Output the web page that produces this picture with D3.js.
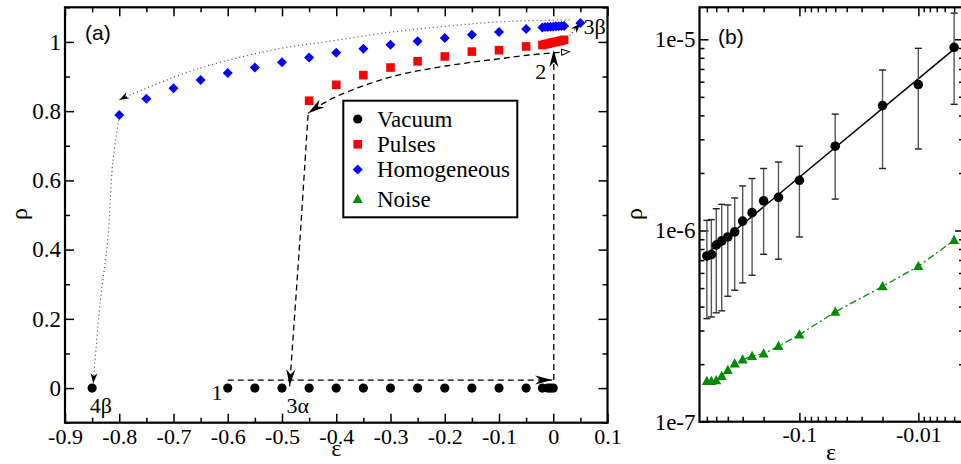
<!DOCTYPE html>
<html>
<head>
<meta charset="utf-8">
<script src="https://cdn.jsdelivr.net/npm/d3@7"></script>
<style>
  body { margin: 0; background: #fff; }
  svg text { font-family: "Liberation Serif", "Times New Roman", serif; }
</style>
</head>
<body>
<svg id="chart" width="961" height="464"></svg>
<script>
//Panel (a) data: rho vs epsilon
const vacEps = [-0.85, -0.6, -0.55, -0.5, -0.45, -0.4, -0.35, -0.3, -0.25, -0.2, -0.15, -0.1, -0.05, -0.02, -0.01, -0.005, 0];
const vacRho = [0, 0, 0, 0, 0, 0, 0, 0, 0, 0, 0, 0, 0, 0, 0, 0, 0];

const pulEps = [-0.45, -0.4, -0.35, -0.3, -0.25, -0.2, -0.15, -0.1, -0.05, -0.02, -0.015, -0.01, -0.005, 0, 0.005, 0.01, 0.015, 0.02];
const pulRho = [0.83, 0.876, 0.904, 0.926, 0.944, 0.958, 0.972, 0.976, 0.987, 0.991, 0.993, 0.995, 0.997, 0.999, 1.0, 1.002, 1.004, 1.006];

const homEps = [-0.8, -0.75, -0.7, -0.65, -0.6, -0.55, -0.5, -0.45, -0.4, -0.35, -0.3, -0.25, -0.2, -0.15, -0.1, -0.05, -0.02, -0.015, -0.01, -0.005, 0, 0.005, 0.01, 0.015, 0.02, 0.05];
const homRho = [0.789, 0.836, 0.866, 0.89, 0.91, 0.926, 0.941, 0.955, 0.969, 0.98, 0.992, 1.002, 1.011, 1.021, 1.029, 1.037, 1.042, 1.043, 1.043, 1.044, 1.044, 1.045, 1.045, 1.046, 1.046, 1.055];

//hysteresis paths, [eps, rho]
const path1to2 = [[-0.6, 0.023], [-0.002, 0.023]];
const pathUp2 = [[0.001, 0.023], [0.001, 0.977]];
const pathPulses = [[0.03, 0.972], [-0.039, 0.963], [-0.1, 0.951], [-0.161, 0.939], [-0.223, 0.924], [-0.284, 0.905], [-0.345, 0.876], [-0.412, 0.833], [-0.452, 0.794]];
const pathTo3a = [[-0.452, 0.789], [-0.467, 0.428], [-0.486, 0.005]];
const pathTo3b = [[0.026, 1.011], [0.05, 1.054]];
const pathHomog = [[0.03, 1.064], [-0.1, 1.058], [-0.2, 1.045], [-0.3, 1.028], [-0.43, 0.998], [-0.5, 0.982], [-0.652, 0.924], [-0.787, 0.842], [-0.8, 0.832]];
const pathTo4b = [[-0.801, 0.775], [-0.812, 0.65], [-0.821, 0.43], [-0.835, 0.25], [-0.848, 0.014]];

const pointLabels = ['1', '2', '3\u03b1', '3\u03b2', '4\u03b2'];
const pointLabelPos = [[-0.62, -0.011], [-0.023, 0.914], [-0.471, -0.049], [0.076, 1.045], [-0.834, -0.049]];

const legendNames = ['Vacuum', 'Pulses', 'Homogeneous', 'Noise'];

//Panel (b) data: log-log, vacuum with error bars and noise
const bEps = [-0.6, -0.55, -0.5, -0.45, -0.4, -0.35, -0.3, -0.25, -0.2, -0.15, -0.1, -0.05, -0.02, -0.01, -0.005];
const bVac = [7.36e-7, 7.48e-7, 8.38e-7, 8.82e-7, 9.25e-7, 9.84e-7, 1.12e-6, 1.24e-6, 1.43e-6, 1.49e-6, 1.83e-6, 2.76e-6, 4.5e-6, 5.8e-6, 9.08e-6];
const bVacHi = [1.13e-6, 1.14e-6, 1.30e-6, 1.37e-6, 1.36e-6, 1.48e-6, 1.71e-6, 1.87e-6, 2.11e-6, 2.28e-6, 2.76e-6, 4.06e-6, 6.91e-6, 8.97e-6, 1.37e-5];
const bVacLo = [3.46e-7, 3.53e-7, 3.71e-7, 3.80e-7, 4.53e-7, 4.87e-7, 5.32e-7, 5.83e-7, 7.51e-7, 7.08e-7, 9.25e-7, 1.46e-6, 2.11e-6, 2.67e-6, 4.57e-6];
const bNoise = [1.63e-7, 1.63e-7, 1.64e-7, 1.73e-7, 1.86e-7, 2.01e-7, 2.11e-7, 2.2e-7, 2.27e-7, 2.48e-7, 2.85e-7, 3.75e-7, 5.1e-7, 6.5e-7, 8.89e-7];

const bXLabels = ['-0.1', '-0.01'];
const bYLabels = ['1e-7', '1e-6', '1e-5'];

const RED = '#ff0000', BLUE = '#0000ff', GREEN = '#008b00';
const SERIF = '"Liberation Serif", "Times New Roman", serif';

const svg = d3.select('#chart');

//symbol shapes
const shapes = {
  circle: r => `M${-r},0a${r},${r} 0 1,0 ${2*r},0a${r},${r} 0 1,0 ${-2*r},0`,
  square: s => `M${-s},${-s}H${s}V${s}H${-s}Z`,
  diamond: s => `M0,${-s}L${s},0L0,${s}L${-s},0Z`,
  triangle: s => `M0,${-s*1.1}L${s},${s*0.75}L${-s},${s*0.75}Z`
};

//arrow heads
const defs = svg.append('defs');
function arrowDef(id, d, fill, stroke) {
  defs.append('marker').attr('id', id)
    .attr('markerUnits', 'userSpaceOnUse')
    .attr('viewBox', '-20 -8 22 16')
    .attr('markerWidth', 22).attr('markerHeight', 16)
    .attr('refX', 0).attr('refY', 0)
    .attr('orient', 'auto')
    .append('path').attr('d', d)
    .attr('fill', fill).attr('stroke', stroke || 'none').attr('stroke-width', 1);
}
arrowDef('bigHead', 'M0,0L-17,-4.5L-12,0L-17,4.5Z', '#000');
arrowDef('smallHead', 'M0,0L-10,-3.5L-7,0L-10,3.5Z', '#000');
defs.append('marker').attr('id', 'openStart')
  .attr('markerUnits', 'userSpaceOnUse')
  .attr('viewBox', '-2 -8 22 16')
  .attr('markerWidth', 22).attr('markerHeight', 16)
  .attr('refX', 0).attr('refY', 0)
  .attr('orient', 'auto')
  .append('path').attr('d', 'M0,0L8,-3L8,3Z')
  .attr('fill', '#fff').attr('stroke', '#000').attr('stroke-width', 1);

function styleAxis(g, size) {
  g.attr('font-family', SERIF).attr('font-size', size);
  g.select('.domain').remove();
  g.selectAll('line').attr('stroke', '#000').attr('stroke-width', 1.5);
  g.selectAll('text').attr('fill', '#000')
    .attr('font-family', SERIF)
    .style('font-family', SERIF)
    .style('font-size', size + 'px');
}

// ================= PANEL (a) =================
const ax = d3.scaleLinear().domain([-0.9, 0.1]).range([65, 607.5]);
const ay = d3.scaleLinear().domain([-0.1, 1.1]).range([422.7, 7.3]);
const aTop = 7.3, aBottom = 422.7, aLeft = 65, aRight = 607.5;

const fmtA = d => Math.abs(d) < 1e-9 ? '0' : (Math.abs(d - 1) < 1e-9 ? '1' : d.toFixed(1));
const axMaj = d3.ticks(-0.9, 0.1, 10);
const axMin = d3.ticks(-0.9, 0.1, 20).filter(v => !axMaj.some(m => Math.abs(m - v) < 1e-9));
const ayMaj = d3.ticks(0, 1, 5);
const ayMin = d3.ticks(-0.1, 1.1, 12).filter(v => !ayMaj.some(m => Math.abs(m - v) < 1e-9));

const ga = svg.append('g');
//bottom + top
ga.append('g').attr('transform', `translate(0,${aBottom})`)
  .call(d3.axisBottom(ax).tickValues(axMaj).tickSize(-9).tickPadding(6).tickFormat(fmtA))
  .call(g => styleAxis(g, 22));
ga.append('g').attr('transform', `translate(0,${aBottom})`)
  .call(d3.axisBottom(ax).tickValues(axMin).tickSize(-5).tickFormat(''))
  .call(g => styleAxis(g, 22));
ga.append('g').attr('transform', `translate(0,${aTop})`)
  .call(d3.axisTop(ax).tickValues(axMaj).tickSize(-9).tickFormat(''))
  .call(g => styleAxis(g, 22));
ga.append('g').attr('transform', `translate(0,${aTop})`)
  .call(d3.axisTop(ax).tickValues(axMin).tickSize(-5).tickFormat(''))
  .call(g => styleAxis(g, 22));
//left + right
ga.append('g').attr('transform', `translate(${aLeft},0)`)
  .call(d3.axisLeft(ay).tickValues(ayMaj).tickSize(-9).tickPadding(4).tickFormat(fmtA))
  .call(g => styleAxis(g, 23));
ga.append('g').attr('transform', `translate(${aLeft},0)`)
  .call(d3.axisLeft(ay).tickValues(ayMin).tickSize(-5).tickFormat(''))
  .call(g => styleAxis(g, 23));
ga.append('g').attr('transform', `translate(${aRight},0)`)
  .call(d3.axisRight(ay).tickValues(ayMaj).tickSize(-9).tickFormat(''))
  .call(g => styleAxis(g, 23));
ga.append('g').attr('transform', `translate(${aRight},0)`)
  .call(d3.axisRight(ay).tickValues(ayMin).tickSize(-5).tickFormat(''))
  .call(g => styleAxis(g, 23));

ga.append('rect').attr('x', aLeft).attr('y', aTop)
  .attr('width', aRight - aLeft).attr('height', aBottom - aTop)
  .attr('fill', 'none').attr('stroke', '#000').attr('stroke-width', 2.2);

//axis titles
ga.append('text').attr('x', (aLeft + aRight) / 2).attr('y', 456)
  .attr('text-anchor', 'middle').style('font-size', '24px').text('\u03b5');
ga.append('text').attr('transform', 'translate(27,214) rotate(-90)')
  .attr('text-anchor', 'middle').style('font-size', '24px').text('\u03c1');
ga.append('text').attr('x', 85).attr('y', 40)
  .style('font-family', '"Liberation Sans", Arial, sans-serif').style('font-size', '21px').text('(a)');

//hysteresis arrows
const aLine = d3.line().x(d => ax(d[0])).y(d => ay(d[1])).curve(d3.curveCatmullRom);
function drawPath(pts, dash, color, width, endMarker, startMarker) {
  const p = ga.append('path').attr('d', aLine(pts))
    .attr('fill', 'none').attr('stroke', color).attr('stroke-width', width)
    .attr('stroke-dasharray', dash);
  if (endMarker) p.attr('marker-end', `url(#${endMarker})`);
  if (startMarker) p.attr('marker-start', `url(#${startMarker})`);
}
drawPath(path1to2, '6,4', '#000', 1.3, 'bigHead');
drawPath(pathUp2, '6,4', '#000', 1.3, 'bigHead');
drawPath(pathPulses, '6,4', '#000', 1.3, 'bigHead', 'openStart');
drawPath(pathTo3a, '6,4', '#000', 1.3, 'bigHead');
drawPath(pathTo3b, '1,2.5', '#333', 1.2, 'smallHead');
drawPath(pathHomog, '1,3', '#444', 1.2, 'smallHead');
drawPath(pathTo4b, '1,3', '#444', 1.2, 'smallHead');

//markers
ga.append('g').selectAll('path')
  .data(homEps.map((e, i) => [e, homRho[i]]))
  .enter().append('path')
  .attr('transform', d => `translate(${ax(d[0])},${ay(d[1])})`)
  .attr('d', shapes.diamond(5)).attr('fill', BLUE);
ga.append('g').selectAll('path')
  .data(pulEps.map((e, i) => [e, pulRho[i]]))
  .enter().append('path')
  .attr('transform', d => `translate(${ax(d[0])},${ay(d[1])})`)
  .attr('d', shapes.square(4.3)).attr('fill', RED);
ga.append('g').selectAll('path')
  .data(vacEps.map((e, i) => [e, vacRho[i]]))
  .enter().append('path')
  .attr('transform', d => `translate(${ax(d[0])},${ay(d[1])})`)
  .attr('d', shapes.circle(4.6)).attr('fill', '#000');

//point labels
ga.append('g').selectAll('text')
  .data(pointLabels)
  .enter().append('text')
  .attr('x', (d, i) => ax(pointLabelPos[i][0]))
  .attr('y', (d, i) => ay(pointLabelPos[i][1]))
  .attr('text-anchor', 'middle').attr('dy', '0.35em')
  .style('font-size', '22px')
  .text(d => d);

//legend
const leg = ga.append('g');
leg.append('rect').attr('x', 343.3).attr('y', 100.7).attr('width', 174).attr('height', 116.6)
  .attr('fill', '#fff').attr('stroke', '#000').attr('stroke-width', 2);
const legY = [119, 144.3, 169.5, 199.3];
const legShape = [shapes.circle(4.6), shapes.square(4.3), shapes.diamond(5), shapes.triangle(5)];
const legColor = ['#000', RED, BLUE, GREEN];
legendNames.forEach((name, i) => {
  leg.append('path').attr('transform', `translate(357.7,${legY[i]})`)
    .attr('d', legShape[i]).attr('fill', legColor[i]);
  leg.append('text').attr('x', 377).attr('y', legY[i]).attr('dy', '0.33em')
    .style('font-size', '23px').text(name);
});

// ================= PANEL (b) =================
const bLeft = 699.5, bRight = 964, bTop = 7.3, bBottom = 421.7;
const bx = d3.scaleLog().domain([0.692, 0.00413]).range([bLeft, bRight]);
const by = d3.scaleLog().domain([1e-7, 1.47e-5]).range([bBottom, bTop]);

const isDecade = v => Math.abs(Math.log10(v) - Math.round(Math.log10(v))) < 1e-6;
const bxAll = bx.ticks();
const bxMaj = bxAll.filter(isDecade);
const bxMin = bxAll.filter(v => !isDecade(v));
const byAll = by.ticks();
const byMaj = byAll.filter(isDecade);
const byMin = byAll.filter(v => !isDecade(v));

const gb = svg.append('g');
gb.append('g').attr('transform', `translate(0,${bBottom})`)
  .call(d3.axisBottom(bx).tickValues(bxMaj).tickSize(-9).tickPadding(5).tickFormat((d, i) => bXLabels[i]))
  .call(g => styleAxis(g, 22));
gb.append('g').attr('transform', `translate(0,${bBottom})`)
  .call(d3.axisBottom(bx).tickValues(bxMin).tickSize(-5).tickFormat(''))
  .call(g => styleAxis(g, 22));
gb.append('g').attr('transform', `translate(0,${bTop})`)
  .call(d3.axisTop(bx).tickValues(bxMaj).tickSize(-9).tickFormat(''))
  .call(g => styleAxis(g, 22));
gb.append('g').attr('transform', `translate(0,${bTop})`)
  .call(d3.axisTop(bx).tickValues(bxMin).tickSize(-5).tickFormat(''))
  .call(g => styleAxis(g, 22));
gb.append('g').attr('transform', `translate(${bLeft},0)`)
  .call(d3.axisLeft(by).tickValues(byMaj).tickSize(-9).tickPadding(4).tickFormat((d, i) => bYLabels[i]))
  .call(g => styleAxis(g, 23));
gb.append('g').attr('transform', `translate(${bLeft},0)`)
  .call(d3.axisLeft(by).tickValues(byMin).tickSize(-5).tickFormat(''))
  .call(g => styleAxis(g, 23));
gb.append('g').attr('transform', `translate(${bRight},0)`)
  .call(d3.axisRight(by).tickValues(byMaj).tickSize(-9).tickFormat(''))
  .call(g => styleAxis(g, 23));
gb.append('g').attr('transform', `translate(${bRight},0)`)
  .call(d3.axisRight(by).tickValues(byMin).tickSize(-5).tickFormat(''))
  .call(g => styleAxis(g, 23));

gb.append('rect').attr('x', bLeft).attr('y', bTop)
  .attr('width', bRight - bLeft).attr('height', bBottom - bTop)
  .attr('fill', 'none').attr('stroke', '#000').attr('stroke-width', 2.2);

gb.append('text').attr('x', 831).attr('y', 460)
  .attr('text-anchor', 'middle').style('font-size', '24px').text('\u03b5');
gb.append('text').attr('transform', 'translate(642,214) rotate(-90)')
  .attr('text-anchor', 'middle').style('font-size', '24px').text('\u03c1');
gb.append('text').attr('x', 718).attr('y', 44)
  .style('font-family', '"Liberation Sans", Arial, sans-serif').style('font-size', '21px').text('(b)');

//power-law fit of the vacuum points (least squares in log-log)
const lx = bEps.map(e => Math.log10(Math.abs(e)));
const ly = bVac.map(v => Math.log10(v));
const mx = d3.mean(lx), my = d3.mean(ly);
const slope = d3.sum(lx.map((x, i) => (x - mx) * (ly[i] - my))) / d3.sum(lx.map(x => (x - mx) * (x - mx)));
const icpt = my - slope * mx;
const fitEnds = [d3.max(bEps.map(Math.abs)), d3.min(bEps.map(Math.abs))];
gb.append('path')
  .attr('d', d3.line()(fitEnds.map(a => [bx(a), by(Math.pow(10, icpt + slope * Math.log10(a)))])))
  .attr('stroke', '#000').attr('stroke-width', 1.5).attr('fill', 'none');

//error bars
const eb = gb.append('g').attr('stroke', '#555').attr('stroke-width', 1.4);
bEps.forEach((e, i) => {
  const x = bx(Math.abs(e));
  eb.append('line').attr('x1', x).attr('x2', x).attr('y1', by(bVacLo[i])).attr('y2', by(bVacHi[i]));
  eb.append('line').attr('x1', x - 3.5).attr('x2', x + 3.5).attr('y1', by(bVacLo[i])).attr('y2', by(bVacLo[i])).attr('stroke', '#222');
  eb.append('line').attr('x1', x - 3.5).attr('x2', x + 3.5).attr('y1', by(bVacHi[i])).attr('y2', by(bVacHi[i])).attr('stroke', '#222');
});

//noise line
gb.append('path')
  .attr('d', d3.line().x((d, i) => bx(Math.abs(bEps[i]))).y(d => by(d))(bNoise))
  .attr('stroke', GREEN).attr('stroke-width', 1.3).attr('fill', 'none')
  .attr('stroke-dasharray', '7,3,2,3');

gb.append('g').selectAll('path')
  .data(bNoise)
  .enter().append('path')
  .attr('transform', (d, i) => `translate(${bx(Math.abs(bEps[i]))},${by(d)})`)
  .attr('d', shapes.triangle(5)).attr('fill', GREEN);

gb.append('g').selectAll('path')
  .data(bVac)
  .enter().append('path')
  .attr('transform', (d, i) => `translate(${bx(Math.abs(bEps[i]))},${by(d)})`)
  .attr('d', shapes.circle(4.8)).attr('fill', '#000');
</script>
</body>
</html>
